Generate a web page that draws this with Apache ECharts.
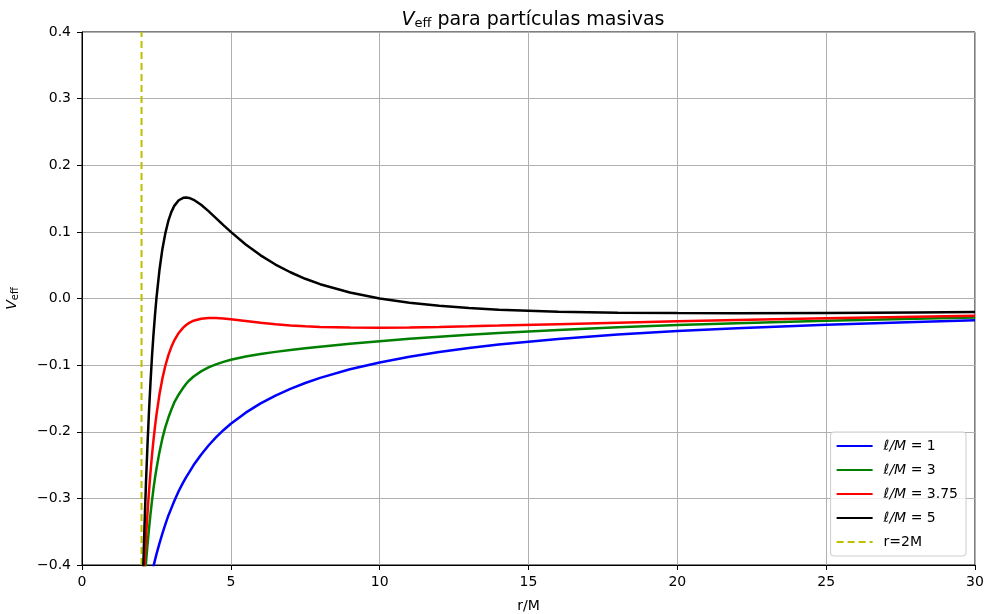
<!DOCTYPE html>
<html>
<head>
<meta charset="utf-8">
<script src="https://cdn.jsdelivr.net/npm/echarts@6/dist/echarts.min.js"></script>
<style>
html, body { margin: 0; padding: 0; background: #fff; }
#myChart { width: 986px; height: 614px; }
</style>
</head>
<body>
<div id="myChart"></div>
<script>
// r/M sample points
var rValues = [2.0, 2.05, 2.1, 2.15, 2.2, 2.25, 2.3, 2.35, 2.4, 2.45, 2.5, 2.6, 2.7, 2.8, 2.9, 3.0, 3.1, 3.25, 3.4, 3.5, 3.6, 3.75, 4, 4.25, 4.5, 4.75, 5, 5.5, 6, 6.5, 7, 7.5, 8, 9, 10, 11, 12, 13, 14, 16, 18, 20, 22, 25, 28, 30];

var vL1 = [-0.500, -0.485, -0.471, -0.458, -0.445, -0.433, -0.422, -0.412, -0.402, -0.393, -0.384, -0.368, -0.353, -0.339, -0.326, -0.315, -0.304, -0.289, -0.276, -0.268, -0.261, -0.250, -0.2344, -0.2206, -0.2085, -0.1977, -0.1880, -0.1713, -0.1574, -0.1457, -0.1356, -0.1268, -0.1191, -0.1063, -0.0960, -0.0875, -0.0804, -0.0744, -0.0692, -0.0608, -0.0542, -0.0489, -0.0445, -0.0393, -0.0351, -0.0328];
var vL3 = [-0.500, -0.462, -0.428, -0.397, -0.370, -0.346, -0.324, -0.304, -0.286, -0.270, -0.256, -0.231, -0.210, -0.193, -0.179, -0.167, -0.156, -0.144, -0.134, -0.128, -0.123, -0.117, -0.1094, -0.1034, -0.0988, -0.0951, -0.0920, -0.0872, -0.0833, -0.0801, -0.0773, -0.0747, -0.0723, -0.0679, -0.0640, -0.0605, -0.0573, -0.0544, -0.0518, -0.0471, -0.0432, -0.0399, -0.0370, -0.0334, -0.0304, -0.0287];
var vL375 = [-0.5000, -0.4470, -0.4003, -0.3590, -0.3225, -0.2901, -0.2614, -0.2359, -0.2132, -0.1930, -0.1750, -0.1446, -0.1203, -0.1009, -0.0854, -0.0729, -0.0630, -0.0517, -0.0437, -0.0397, -0.0366, -0.0333, -0.0303, -0.0292, -0.0293, -0.0301, -0.0313, -0.0339, -0.0365, -0.0386, -0.0404, -0.0417, -0.0426, -0.0436, -0.0438, -0.0434, -0.0426, -0.0417, -0.0407, -0.0385, -0.0363, -0.0342, -0.0322, -0.0297, -0.0274, -0.0260];
var vL5 = [-0.500, -0.415, -0.341, -0.276, -0.220, -0.170, -0.127, -0.088, -0.055, -0.026, 0.000, 0.042, 0.074, 0.098, 0.1164, 0.1296, 0.1390, 0.1475, 0.1511, 0.1516, 0.1509, 0.1481, 0.1406, 0.1311, 0.1207, 0.1102, 0.1000, 0.0811, 0.0648, 0.0510, 0.0394, 0.0296, 0.0215, 0.0089, 0.0000, -0.0064, -0.0110, -0.0143, -0.0168, -0.0198, -0.0213, -0.0219, -0.0220, -0.0216, -0.0209, -0.0204];

var horizonR = 2;
var yRange = [-0.4, 0.4];

var seriesNames = ['l1', 'l3', 'l375', 'l5', 'h'];
var legendLabels = {
	l1: '{i|ℓ/M} = 1',
	l3: '{i|ℓ/M} = 3',
	l375: '{i|ℓ/M} = 3.75',
	l5: '{i|ℓ/M} = 5',
	h: 'r=2M'
};

var FONT = 'DejaVu Sans';

function pairs(xs, ys) {
	var out = [];
	for (var i = 0; i < xs.length; i++) {
		out.push([xs[i], ys[i]]);
	}
	return out;
}

function fmtY(v) {
	var s = v.toFixed(1);
	if (s === '-0.0') s = '0.0';
	return s.replace('-', '\u2212');
}

function curve(name, color, data) {
	return {
		name: name,
		type: 'line',
		data: data,
		showSymbol: false,
		symbol: 'none',
		clip: true,
		lineStyle: { color: color, width: 2.5 },
		itemStyle: { color: color },
		z: 3
	};
}

var myChart = echarts.init(document.getElementById('myChart'));

var option = {
	backgroundColor: '#fff',
	animation: false,
	textStyle: { fontFamily: FONT },
	title: {
		text: '{v|V}{s|eff} para partículas masivas',
		left: 528,
		textAlign: 'center',
		top: 5,
		textStyle: {
			fontFamily: FONT,
			fontSize: 19,
			fontWeight: 'normal',
			color: '#000',
			rich: {
				v: { fontFamily: FONT, fontSize: 19, fontStyle: 'italic', color: '#000' },
				s: { fontFamily: FONT, fontSize: 13, color: '#000', verticalAlign: 'bottom', padding: [7, 0, 0, 0] }
			}
		}
	},
	grid: {
		left: 82,
		right: 11,
		top: 32,
		bottom: 49,
		show: true,
		borderColor: '#000',
		borderWidth: 1,
		containLabel: false,
		outerBoundsMode: 'none'
	},
	legend: {
		orient: 'vertical',
		right: 20,
		bottom: 58,
		data: seriesNames,
		backgroundColor: 'rgba(255,255,255,0.8)',
		borderColor: '#cccccc',
		borderWidth: 1,
		borderRadius: 3,
		padding: [7, 8, 7, 5],
		itemWidth: 36,
		itemHeight: 14,
		itemGap: 10,
		itemStyle: { opacity: 0 },
		formatter: function(name) {
			return legendLabels[name];
		},
		textStyle: {
			fontFamily: FONT,
			fontSize: 14,
			color: '#000',
			padding: [0, 0, 0, 6],
			rich: {
				i: { fontFamily: FONT, fontSize: 14, fontStyle: 'italic', color: '#000' }
			}
		}
	},
	xAxis: {
		type: 'value',
		min: 0,
		max: 30,
		interval: 5,
		name: 'r/M',
		nameLocation: 'middle',
		nameGap: 34,
		nameTextStyle: { fontFamily: FONT, fontSize: 14, color: '#000' },
		axisLine: { show: true, onZero: false, lineStyle: { color: '#000', width: 1 } },
		axisTick: { show: true, inside: false, length: 5, lineStyle: { color: '#000' } },
		axisLabel: { fontFamily: FONT, fontSize: 14, color: '#000', margin: 10 },
		splitLine: { show: true, lineStyle: { color: '#b0b0b0', width: 1 } }
	},
	yAxis: {
		type: 'value',
		min: yRange[0],
		max: yRange[1],
		interval: 0.1,
		name: '{v|V}{s|eff}',
		nameLocation: 'middle',
		nameGap: 62,
		nameRotate: 90,
		nameTextStyle: {
			fontFamily: FONT,
			fontSize: 14,
			color: '#000',
			rich: {
				v: { fontFamily: FONT, fontSize: 14, fontStyle: 'italic', color: '#000' },
				s: { fontFamily: FONT, fontSize: 10, color: '#000', padding: [5, 0, 0, 0] }
			}
		},
		axisLine: { show: true, onZero: false, lineStyle: { color: '#000', width: 1 } },
		axisTick: { show: true, inside: false, length: 5, lineStyle: { color: '#000' } },
		axisLabel: {
			fontFamily: FONT,
			fontSize: 14,
			color: '#000',
			margin: 11,
			formatter: fmtY
		},
		splitLine: { show: true, lineStyle: { color: '#b0b0b0', width: 1 } }
	},
	series: [
		curve('l1', '#0000ff', pairs(rValues, vL1)),
		curve('l3', '#008000', pairs(rValues, vL3)),
		curve('l375', '#ff0000', pairs(rValues, vL375)),
		curve('l5', '#000000', pairs(rValues, vL5)),
		{
			name: 'h',
			type: 'line',
			data: [[horizonR, yRange[0]], [horizonR, yRange[1]]],
			showSymbol: false,
			symbol: 'none',
			lineStyle: { color: '#bfbf00', width: 2, type: [7, 4] },
			itemStyle: { color: '#bfbf00' },
			z: 2
		}
	]
};

myChart.setOption(option);
</script>
</body>
</html>
